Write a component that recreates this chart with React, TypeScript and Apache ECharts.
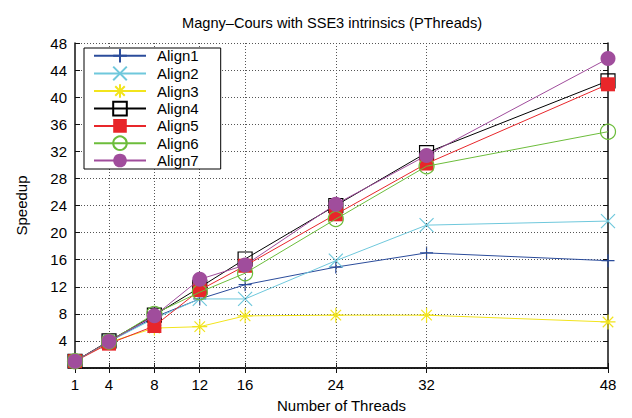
import React, { useEffect, useRef } from "react";
import * as echarts from "echarts";

const threads = [1, 4, 8, 12, 16, 24, 32, 48];
const align1 = [1, 3.9, 7.5, 10.2, 12.3, 14.9, 17.0, 15.85];
const align2 = [1, 3.9, 7.3, 10.2, 10.2, 15.85, 21.1, 21.7];
const align3 = [1, 3.8, 5.9, 6.1, 7.7, 7.8, 7.8, 6.8];
const align4 = [1, 4.0, 7.8, 11.9, 16.1, 24.0, 31.8, 42.4];
const align5 = [1, 3.6, 6.2, 11.5, 15.1, 22.7, 30.2, 41.9];
const align6 = [1, 3.9, 8.0, 11.2, 14.0, 22.0, 29.8, 34.9];
const align7 = [1, 3.9, 7.7, 13.1, 15.2, 24.2, 31.4, 45.7];
const seriesNames = ["Align1", "Align2", "Align3", "Align4", "Align5", "Align6", "Align7"];
const xTicks = [1, 4, 8, 12, 16, 24, 32, 48];
const gridXLines = [4, 8, 12, 16, 24, 32];

const FONT = "Liberation Sans";

export default function App() {
  const ref = useRef<HTMLDivElement>(null);
  useEffect(() => {
    const chart = echarts.init(ref.current!, null, { renderer: "svg" });
    const values = [align1, align2, align3, align4, align5, align6, align7];
    const colors = ["#2b4c9b", "#6fc8dc", "#f2e41c", "#000000", "#e8262a", "#6cbd3b", "#a04d9c"];
    const symbols = [
      "path://M0,5L10,5M5,0L5,10",
      "path://M0,0L10,10M10,0L0,10",
      "path://M0,5L10,5M5,0L5,10M1.5,1.5L8.5,8.5M8.5,1.5L1.5,8.5",
      "rect",
      "rect",
      "circle",
      "circle",
    ];
    const sizes = [13, 14, 15, 14, 14, 15, 15];
    const filled = [false, false, false, false, true, false, true];
    const series: any[] = values.map((vals, i) => ({
      type: "line",
      name: seriesNames[i],
      data: threads.map((t, j) => [t, vals[j]]),
      symbol: symbols[i],
      symbolSize: sizes[i],
      showAllSymbol: true,
      lineStyle: { color: colors[i], width: 1 },
      itemStyle: {
        color: filled[i] ? colors[i] : "transparent",
        borderColor: colors[i],
        borderWidth: filled[i] ? 0 : 1.2,
      },
      z: 3 + i,
    }));
    series.push({
      type: "line",
      data: [],
      silent: true,
      markLine: {
        silent: true,
        symbol: "none",
        label: { show: false },
        lineStyle: { color: "#555", type: [1, 2], width: 1 },
        data: gridXLines.map((v) => ({ xAxis: v })),
      },
      z: 1,
    });
    const axisLineStyle = { lineStyle: { color: "#111", width: 1.5 } };
    chart.setOption({
      animation: false,
      backgroundColor: "#fff",
      textStyle: { fontFamily: FONT },
      title: {
        text: "Magny\u2013Cours with SSE3 intrinsics (PThreads)",
        left: 177,
        top: 10,
        textStyle: { fontFamily: FONT, fontSize: 14.6, fontWeight: "normal", color: "#000" },
      },
      grid: { left: 75, right: 24, top: 43, bottom: 46, containLabel: false },
      legend: {
        data: seriesNames,
        orient: "vertical",
        left: 84,
        top: 48,
        itemWidth: 52,
        itemHeight: 17,
        itemGap: 2,
        padding: [0, 22, 1, 9],
        backgroundColor: "#fff",
        borderColor: "#000",
        borderWidth: 1,
        borderRadius: 0,
        textStyle: { fontFamily: FONT, fontSize: 15, color: "#000", padding: [0, 0, 0, 6] },
        z: 20,
      },
      xAxis: [
        {
          type: "value",
          min: 1,
          max: 48,
          name: "Number of Threads",
          nameLocation: "middle",
          nameGap: 30,
          nameTextStyle: { fontFamily: FONT, fontSize: 15, color: "#000" },
          axisLine: axisLineStyle,
          axisTick: { show: true, inside: true, length: 5, customValues: xTicks, lineStyle: { color: "#111" } },
          axisLabel: { customValues: xTicks, fontFamily: FONT, fontSize: 15, color: "#000", margin: 9 },
          splitLine: { show: false },
        },
        {
          type: "value",
          position: "top",
          min: 1,
          max: 48,
          axisLine: axisLineStyle,
          axisTick: { show: true, inside: true, length: 5, customValues: xTicks, lineStyle: { color: "#111" } },
          axisLabel: { show: false },
          splitLine: { show: false },
        },
      ],
      yAxis: [
        {
          type: "value",
          min: 0,
          max: 48,
          interval: 4,
          name: "Speedup",
          nameLocation: "middle",
          nameGap: 46,
          nameTextStyle: { fontFamily: FONT, fontSize: 15, color: "#000" },
          axisLine: { show: true, ...axisLineStyle },
          axisTick: { show: true, inside: true, length: 5, lineStyle: { color: "#111" } },
          axisLabel: {
            fontFamily: FONT,
            fontSize: 15,
            color: "#000",
            margin: 8,
            formatter: (v: number) => (v === 0 ? "" : String(v)),
          },
          splitLine: { show: true, lineStyle: { color: "#555", type: [1, 2], width: 1 } },
        },
        {
          type: "value",
          position: "right",
          min: 0,
          max: 48,
          interval: 4,
          axisLine: { show: true, ...axisLineStyle },
          axisTick: { show: true, inside: true, length: 5, lineStyle: { color: "#111" } },
          axisLabel: { show: false },
          splitLine: { show: false },
        },
      ],
      series,
    });
    return () => chart.dispose();
  }, []);
  return <div ref={ref} style={{ width: 632, height: 418, position: "absolute", left: 0, top: 0 }} />;
}
